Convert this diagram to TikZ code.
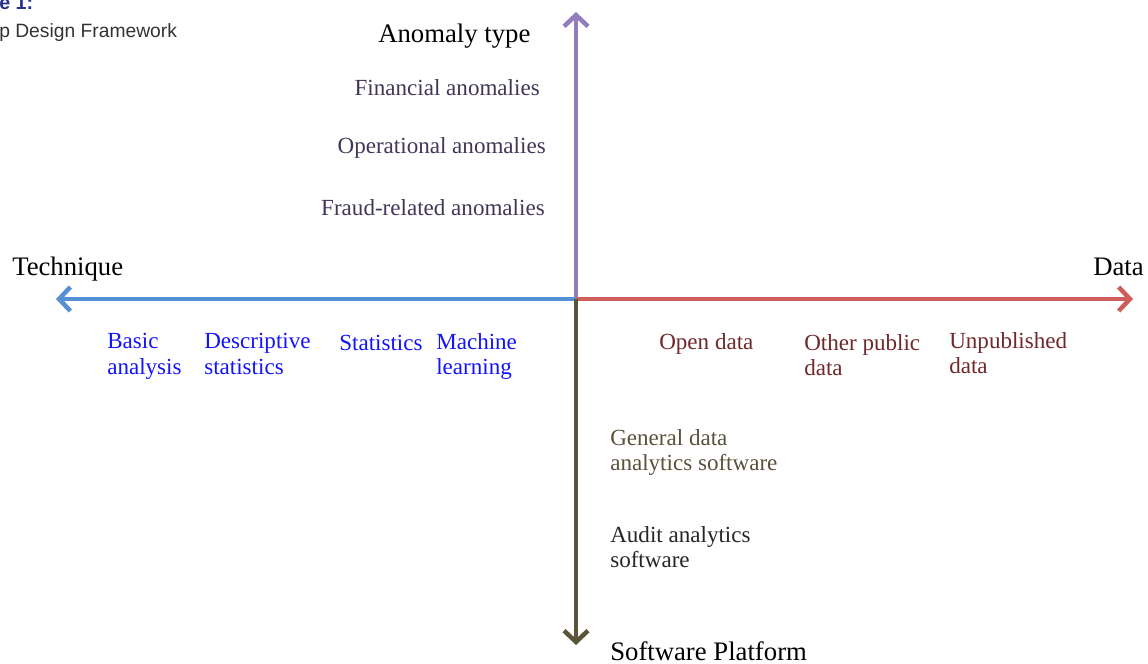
\documentclass[tikz,border=0pt]{standalone}
\usepackage{fontspec}
\setmainfont{Liberation Serif}
\newfontfamily\capfont{Liberation Sans}
\usetikzlibrary{arrows.meta}

\definecolor{anomaxis}{RGB}{146, 124, 190}
\definecolor{anomtext}{RGB}{66, 54, 88}
\definecolor{techaxis}{RGB}{86, 144, 212}
\definecolor{techtext}{RGB}{20, 20, 250}
\definecolor{dataaxis}{RGB}{206, 94, 90}
\definecolor{datatext}{RGB}{112, 40, 42}
\definecolor{plataxis}{RGB}{90, 84, 56}
\definecolor{plattext}{RGB}{88, 82, 58}
\definecolor{capblue}{RGB}{40, 48, 140}

\tikzset{
  axisline/.style={line width=3.2pt, -{Straight Barb[length=8pt, width=17pt, line width=3.2pt]}},
  axistitle/.style={font=\fontsize{19}{22}\selectfont, anchor=base west, inner sep=0pt},
  itemlabel/.style={font=\fontsize{16.4}{18.2}\selectfont, align=left, inner sep=0pt}
}

\begin{document}
\begin{tikzpicture}[x=0.025cm, y=-0.025cm]
  \useasboundingbox (0,0) rectangle (1148,663);

  % caption, cut at the page edge
  \node[font=\capfont\bfseries\fontsize{14}{16}\selectfont, text=capblue, anchor=base west, inner sep=0pt] (figno) at (-1, 10) {e 1:};
  \node[font=\capfont\fontsize{13.7}{16}\selectfont, text=black!80, anchor=base west, inner sep=0pt] (figtitle) at (-1, 38) {p Design Framework};

  % the four axes from a common origin
  \coordinate (o) at (576, 299);
  \coordinate (up) at (576, 12);
  \coordinate (lt) at (56, 299);
  \coordinate (rt) at (1133, 299);
  \coordinate (dn) at (576, 645);

  \draw[axisline, draw=anomaxis] (o) -- (up);
  \draw[axisline, draw=techaxis] (o) -- (lt);
  \draw[axisline, draw=dataaxis] (o) -- (rt);
  \draw[axisline, draw=plataxis] (o) -- (dn);

  % axis titles
  \node[axistitle] (anomaly) at (378, 43) {Anomaly type};
  \node[axistitle] (technique) at (12, 275) {Technique};
  \node[axistitle] (data) at (1093, 275) {Data};
  \node[axistitle] (platform) at (610, 660) {Software Platform};

  % anomaly types
  \node[itemlabel, text=anomtext, anchor=base east] (fin) at (540, 96) {Financial anomalies};
  \node[itemlabel, text=anomtext, anchor=base east] (oper) at (546, 154) {Operational anomalies};
  \node[itemlabel, text=anomtext, anchor=base east] (fraud) at (545, 215) {Fraud-related anomalies};

  % techniques
  \node[itemlabel, text=techtext, anchor=north west] (basic) at (107, 333) {Basic\\analysis};
  \node[itemlabel, text=techtext, anchor=north west] (descr) at (204, 333) {Descriptive\\statistics};
  \node[itemlabel, text=techtext, anchor=north west] (stats) at (339, 335) {Statistics};
  \node[itemlabel, text=techtext, anchor=north west] (ml) at (436, 333) {Machine\\learning};

  % data sources
  \node[itemlabel, text=datatext, anchor=north west] (open) at (659, 333) {Open data};
  \node[itemlabel, text=datatext, anchor=north west] (public) at (804, 334) {Other public\\data};
  \node[itemlabel, text=datatext, anchor=north west] (unpub) at (949, 332) {Unpublished\\data};

  % software platforms
  \node[itemlabel, text=plattext, anchor=north west] (general) at (610, 429) {General data\\analytics software};
  \node[itemlabel, text=black!85, anchor=north west] (audit) at (610, 526) {Audit analytics\\software};
\end{tikzpicture}
\end{document}
